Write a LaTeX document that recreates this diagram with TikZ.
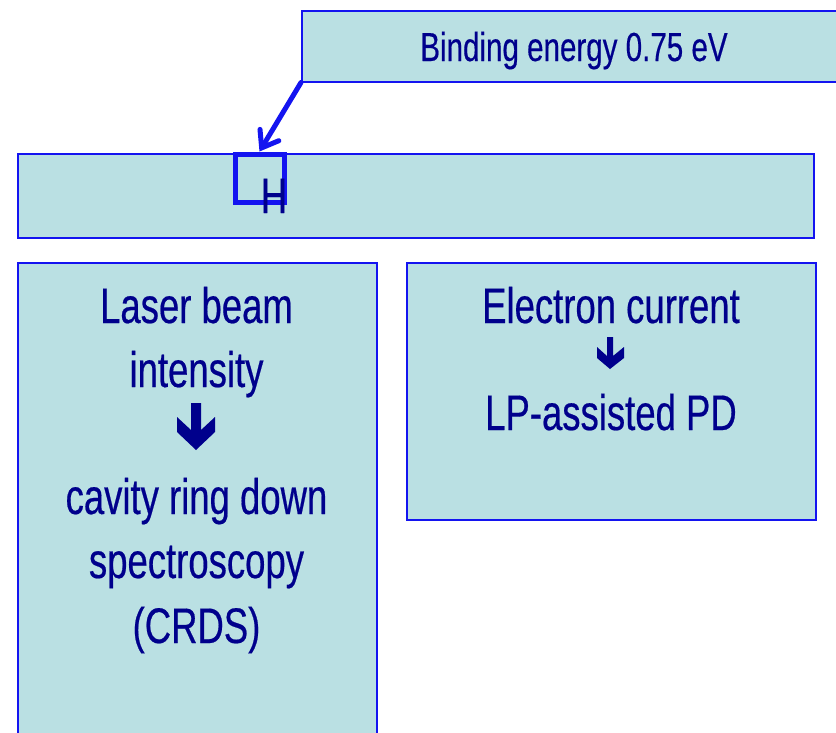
\documentclass[tikz,border=0pt]{standalone}
\usepackage{fontspec}
\setmainfont[FakeStretch=0.73, FakeBold=0.4]{Liberation Sans}
\usetikzlibrary{arrows.meta}
\definecolor{boxfill}{RGB}{186,224,227}
\definecolor{navy}{RGB}{0,0,140}
\definecolor{edge}{RGB}{20,20,240}
\tikzset{
  panel/.style={draw=edge, fill=boxfill, line width=1.5pt, inner sep=0pt, anchor=north west},
  big/.style={text=navy, font=\fontsize{50}{60}\selectfont, anchor=base, inner sep=0pt},
  small/.style={text=navy, font=\fontsize{40.5}{48}\selectfont, anchor=base, inner sep=0pt},
  downarrow/.style={fill=navy},
}
\begin{document}
\begin{tikzpicture}[x=1pt,y=-1pt]
\useasboundingbox (0,0) rectangle (836,732);
\clip (0,0) rectangle (836,732);
% boxes
\node[panel, minimum width=546pt, minimum height=71pt] (bind) at (301,10) {};
\node[panel, minimum width=796pt, minimum height=84pt] (main) at (17,153) {};
\node[panel, minimum width=359pt, minimum height=520pt] (left) at (17,262) {};
\node[panel, minimum width=409pt, minimum height=257pt] (right) at (406,262) {};
% texts
\node[small] (btxt) at (574,61) {Binding energy 0.75 eV};
\node[draw=edge, line width=5pt, minimum width=49pt, minimum height=48pt, inner sep=0pt] (sq) at (259.5,178) {};
\node[big] (h) at (274,213) {H};
\draw[edge, line width=5pt, line cap=round, -{Straight Barb[length=15pt, width=22pt, line cap=round]}] (bind.south west) -- (sq.north);
% left box text
\node[big] (l1) at (196.5,323) {Laser beam};
\node[big] (l2) at (196.5,387) {intensity};
\node[big] (l3) at (196.5,514) {cavity ring down};
\node[big] (l4) at (196.5,578) {spectroscopy};
\node[big] (l5) at (196.5,643) {(CRDS)};
\fill[downarrow] (191,403) -- (201,403) -- (201,430) -- (215,417) -- (215,432) -- (196,450) -- (177,432) -- (177,417) -- (191,430) -- cycle;
% right box text
\node[big] (r1) at (611,323) {Electron current};
\node[big] (r2) at (611,430) {LP-assisted PD};
\fill[downarrow] (607,337) -- (613,337) -- (613,356) -- (624,347) -- (624,358) -- (610,369) -- (597,358) -- (597,347) -- (607,356) -- cycle;
\end{tikzpicture}
\end{document}
